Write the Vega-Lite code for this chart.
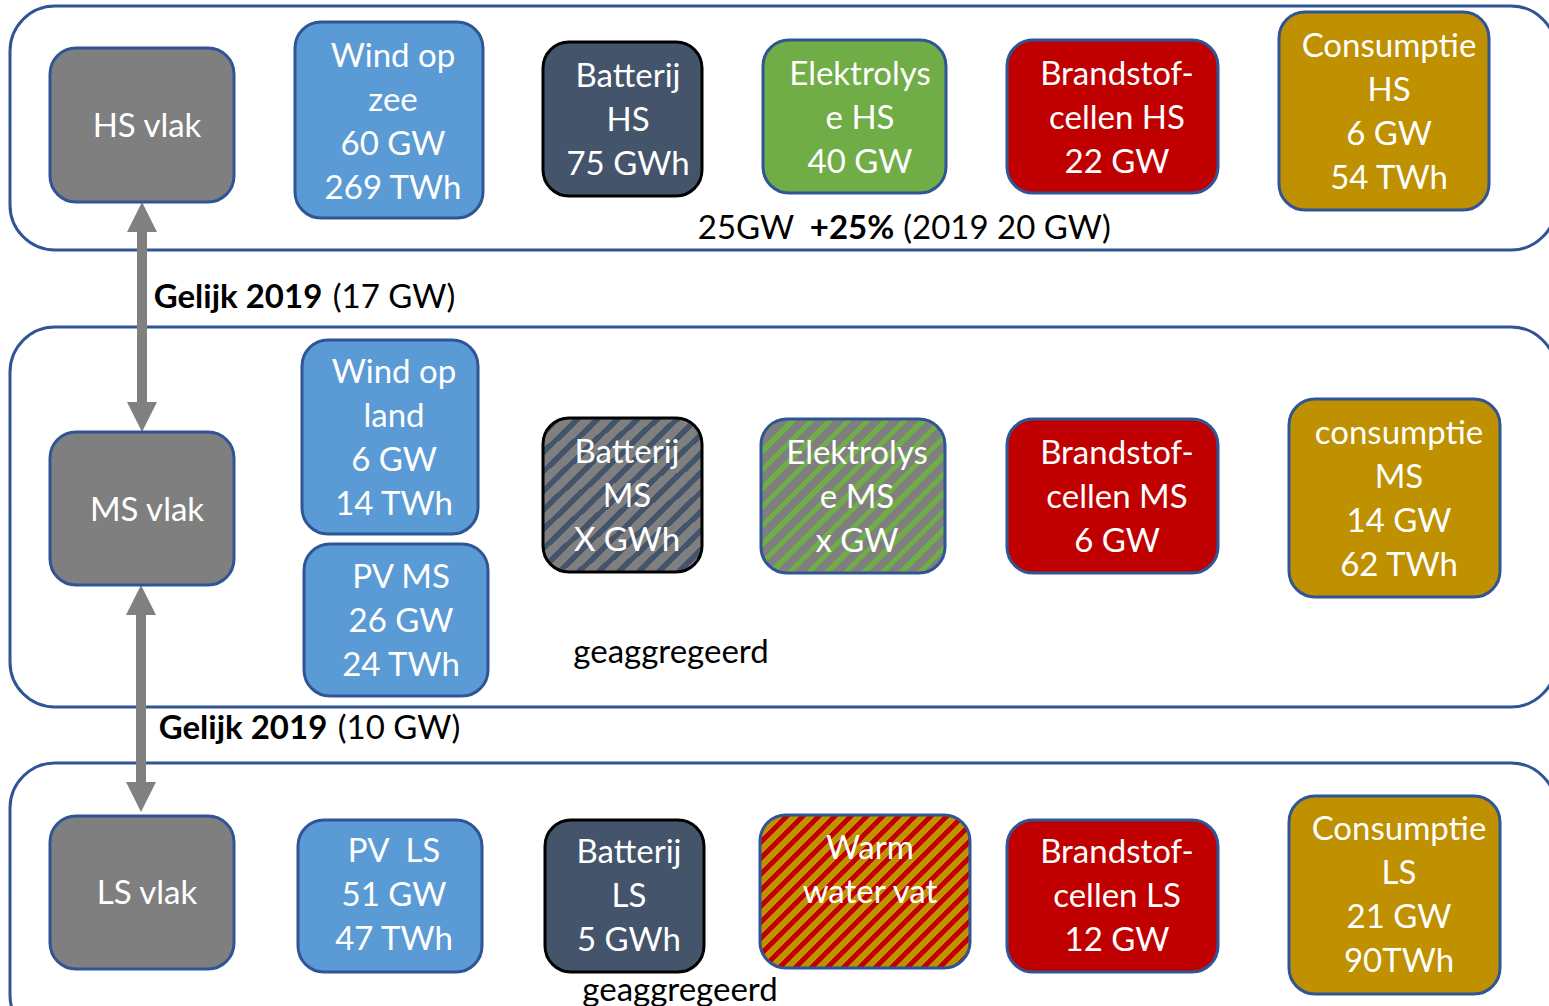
{
"$schema": "https://vega.github.io/schema/vega-lite/v6.json",
"width": 1549, "height": 1006, "padding": 0, "autosize": "none", "background": "white",
"config": {"view": {"stroke": null}, "axis": {"disable": true}},
"datasets": {
"panels": [
{"level": "HS", "x": 10, "x2": 1556, "y": 6, "y2": 250},
{"level": "MS", "x": 10, "x2": 1556, "y": 327, "y2": 707},
{"level": "LS", "x": 10, "x2": 1556, "y": 763, "y2": 1040}
],
"shafts": [
{"link": "HS-MS", "x": 142, "y": 220, "y2": 415},
{"link": "MS-LS", "x": 141, "y": 600, "y2": 795}
],
"heads": [
{"link": "HS-MS", "dir": "up", "x": 142, "y": 217},
{"link": "HS-MS", "dir": "down", "x": 142, "y": 417},
{"link": "MS-LS", "dir": "up", "x": 141, "y": 600},
{"link": "MS-LS", "dir": "down", "x": 141, "y": 797}
],
"boxes": [
{"id": "HS vlak", "kind": "grid", "x": 50, "x2": 234, "y": 48, "y2": 202, "label": "HS vlak", "tx": 147, "ty": 127},
{"id": "Wind op zee", "kind": "renewable", "x": 295, "x2": 483, "y": 22, "y2": 218, "label": "Wind op\nzee\n60 GW\n269 TWh", "tx": 393, "ty": 57},
{"id": "Batterij HS", "kind": "battery", "x": 543, "x2": 702, "y": 42, "y2": 196, "label": "Batterij\nHS\n75 GWh", "tx": 628, "ty": 77},
{"id": "Elektrolyse HS", "kind": "electrolysis", "x": 763, "x2": 946, "y": 40, "y2": 193, "label": "Elektrolys\ne HS\n40 GW", "tx": 860, "ty": 75},
{"id": "Brandstofcellen HS", "kind": "fuelcell", "x": 1007, "x2": 1218, "y": 40, "y2": 193, "label": "Brandstof-\ncellen HS\n22 GW", "tx": 1117, "ty": 75},
{"id": "Consumptie HS", "kind": "consumption", "x": 1279, "x2": 1489, "y": 12, "y2": 210, "label": "Consumptie\nHS\n6 GW\n54 TWh", "tx": 1389, "ty": 47},
{"id": "MS vlak", "kind": "grid", "x": 50, "x2": 234, "y": 432, "y2": 585, "label": "MS vlak", "tx": 147, "ty": 511},
{"id": "Wind op land", "kind": "renewable", "x": 302, "x2": 478, "y": 340, "y2": 534, "label": "Wind op\nland\n6 GW\n14 TWh", "tx": 394, "ty": 373},
{"id": "PV MS", "kind": "renewable", "x": 304, "x2": 488, "y": 544, "y2": 696, "label": "PV MS\n26 GW\n24 TWh", "tx": 401, "ty": 578},
{"id": "Batterij MS", "kind": "battery-hatched", "x": 543, "x2": 702, "y": 418, "y2": 572, "label": "Batterij\nMS\nX GWh", "tx": 627, "ty": 453},
{"id": "Elektrolyse MS", "kind": "electrolysis-hatched", "x": 761, "x2": 945, "y": 419, "y2": 573, "label": "Elektrolys\ne MS\nx GW", "tx": 857, "ty": 454},
{"id": "Brandstofcellen MS", "kind": "fuelcell", "x": 1007, "x2": 1218, "y": 419, "y2": 573, "label": "Brandstof-\ncellen MS\n6 GW", "tx": 1117, "ty": 454},
{"id": "Consumptie MS", "kind": "consumption", "x": 1289, "x2": 1500, "y": 399, "y2": 597, "label": "consumptie\nMS\n14 GW\n62 TWh", "tx": 1399, "ty": 434},
{"id": "LS vlak", "kind": "grid", "x": 50, "x2": 234, "y": 816, "y2": 969, "label": "LS vlak", "tx": 147, "ty": 894},
{"id": "PV LS", "kind": "renewable", "x": 298, "x2": 482, "y": 820, "y2": 972, "label": "PV\u00a0\u00a0LS\n51 GW\n47 TWh", "tx": 394, "ty": 852},
{"id": "Batterij LS", "kind": "battery", "x": 545, "x2": 704, "y": 820, "y2": 972, "label": "Batterij\nLS\n5 GWh", "tx": 629, "ty": 853},
{"id": "Warm water vat", "kind": "heat-hatched", "x": 760, "x2": 970, "y": 815, "y2": 968, "label": "Warm\nwater vat", "tx": 870, "ty": 849},
{"id": "Brandstofcellen LS", "kind": "fuelcell", "x": 1007, "x2": 1218, "y": 820, "y2": 972, "label": "Brandstof-\ncellen LS\n12 GW", "tx": 1117, "ty": 853},
{"id": "Consumptie LS", "kind": "consumption", "x": 1289, "x2": 1500, "y": 796, "y2": 994, "label": "Consumptie\nLS\n21 GW\n90TWh", "tx": 1399, "ty": 830}
],
"notes": [
{"text": "25GW", "bold": false, "x": 746, "y": 229},
{"text": "+25%", "bold": true, "x": 852, "y": 229},
{"text": "(2019 20 GW)", "bold": false, "x": 1007, "y": 229},
{"text": "Gelijk 2019", "bold": true, "x": 238, "y": 298},
{"text": "(17 GW)", "bold": false, "x": 394, "y": 298},
{"text": "Gelijk 2019", "bold": true, "x": 243, "y": 729},
{"text": "(10 GW)", "bold": false, "x": 399, "y": 729},
{"text": "geaggregeerd", "bold": false, "x": 671, "y": 653},
{"text": "geaggregeerd", "bold": false, "x": 680, "y": 991}
]
},
"layer": [
{"data": {"name": "panels"},
 "mark": {"type": "rect", "fill": "white", "stroke": "#2F5597", "strokeWidth": 3, "cornerRadius": 45, "clip": true},
 "encoding": {
  "x": {"field": "x", "type": "quantitative", "scale": {"domain": [0, 1549], "nice": false, "zero": false}, "axis": null},
  "x2": {"field": "x2"},
  "y": {"field": "y", "type": "quantitative", "scale": {"domain": [0, 1006], "nice": false, "zero": false, "reverse": true}, "axis": null},
  "y2": {"field": "y2"}}},
{"data": {"name": "shafts"},
 "mark": {"type": "rule", "color": "#808080", "strokeWidth": 10},
 "encoding": {
  "x": {"field": "x", "type": "quantitative"},
  "y": {"field": "y", "type": "quantitative"},
  "y2": {"field": "y2"}}},
{"data": {"name": "heads"},
 "mark": {"type": "point", "filled": true, "color": "#808080", "opacity": 1, "size": 900, "strokeWidth": 0},
 "encoding": {
  "x": {"field": "x", "type": "quantitative"},
  "y": {"field": "y", "type": "quantitative"},
  "shape": {"field": "dir", "type": "nominal", "scale": {"domain": ["up", "down"], "range": ["M-1,1L0,-1L1,1Z", "M-1,-1L0,1L1,-1Z"]}, "legend": null}}},
{"data": {"name": "boxes"},
 "transform": [{"filter": "indexof(datum.kind, 'hatched') < 0"}],
 "mark": {"type": "rect", "strokeWidth": 3, "cornerRadius": 26},
 "encoding": {
  "x": {"field": "x", "type": "quantitative"},
  "x2": {"field": "x2"},
  "y": {"field": "y", "type": "quantitative"},
  "y2": {"field": "y2"},
  "fill": {"field": "kind", "type": "nominal", "scale": {"domain": ["grid", "renewable", "battery", "electrolysis", "fuelcell", "consumption"], "range": ["#7F7F7F", "#5B9BD5", "#44546A", "#70AD47", "#C00000", "#BF9000"]}, "legend": null},
  "stroke": {"field": "kind", "type": "nominal", "scale": {"domain": ["grid", "renewable", "battery", "electrolysis", "fuelcell", "consumption"], "range": ["#2F5597", "#2F5597", "#000000", "#2F5597", "#2F5597", "#2F5597"]}, "legend": null}}},
{"data": {"name": "boxes"},
 "transform": [{"filter": "datum.kind == 'battery-hatched'"}],
 "mark": {"type": "rect", "strokeWidth": 3, "cornerRadius": 26, "stroke": "#000000",
  "fill": {"gradient": "linear", "x1": 0, "y1": 0, "x2": 1, "y2": 1, "stops": [
{"offset":0,"color":"#7F7F7F"},{"offset":0.0375,"color":"#7F7F7F"},{"offset":0.0375,"color":"#44546A"},{"offset":0.0625,"color":"#44546A"},
{"offset":0.0625,"color":"#7F7F7F"},{"offset":0.1,"color":"#7F7F7F"},{"offset":0.1,"color":"#44546A"},{"offset":0.125,"color":"#44546A"},
{"offset":0.125,"color":"#7F7F7F"},{"offset":0.1625,"color":"#7F7F7F"},{"offset":0.1625,"color":"#44546A"},{"offset":0.1875,"color":"#44546A"},
{"offset":0.1875,"color":"#7F7F7F"},{"offset":0.225,"color":"#7F7F7F"},{"offset":0.225,"color":"#44546A"},{"offset":0.25,"color":"#44546A"},
{"offset":0.25,"color":"#7F7F7F"},{"offset":0.2875,"color":"#7F7F7F"},{"offset":0.2875,"color":"#44546A"},{"offset":0.3125,"color":"#44546A"},
{"offset":0.3125,"color":"#7F7F7F"},{"offset":0.35,"color":"#7F7F7F"},{"offset":0.35,"color":"#44546A"},{"offset":0.375,"color":"#44546A"},
{"offset":0.375,"color":"#7F7F7F"},{"offset":0.4125,"color":"#7F7F7F"},{"offset":0.4125,"color":"#44546A"},{"offset":0.4375,"color":"#44546A"},
{"offset":0.4375,"color":"#7F7F7F"},{"offset":0.475,"color":"#7F7F7F"},{"offset":0.475,"color":"#44546A"},{"offset":0.5,"color":"#44546A"},
{"offset":0.5,"color":"#7F7F7F"},{"offset":0.5375,"color":"#7F7F7F"},{"offset":0.5375,"color":"#44546A"},{"offset":0.5625,"color":"#44546A"},
{"offset":0.5625,"color":"#7F7F7F"},{"offset":0.6,"color":"#7F7F7F"},{"offset":0.6,"color":"#44546A"},{"offset":0.625,"color":"#44546A"},
{"offset":0.625,"color":"#7F7F7F"},{"offset":0.6625,"color":"#7F7F7F"},{"offset":0.6625,"color":"#44546A"},{"offset":0.6875,"color":"#44546A"},
{"offset":0.6875,"color":"#7F7F7F"},{"offset":0.725,"color":"#7F7F7F"},{"offset":0.725,"color":"#44546A"},{"offset":0.75,"color":"#44546A"},
{"offset":0.75,"color":"#7F7F7F"},{"offset":0.7875,"color":"#7F7F7F"},{"offset":0.7875,"color":"#44546A"},{"offset":0.8125,"color":"#44546A"},
{"offset":0.8125,"color":"#7F7F7F"},{"offset":0.85,"color":"#7F7F7F"},{"offset":0.85,"color":"#44546A"},{"offset":0.875,"color":"#44546A"},
{"offset":0.875,"color":"#7F7F7F"},{"offset":0.9125,"color":"#7F7F7F"},{"offset":0.9125,"color":"#44546A"},{"offset":0.9375,"color":"#44546A"},
{"offset":0.9375,"color":"#7F7F7F"},{"offset":0.975,"color":"#7F7F7F"},{"offset":0.975,"color":"#44546A"},{"offset":1,"color":"#44546A"}
  ]}},
 "encoding": {
  "x": {"field": "x", "type": "quantitative"},
  "x2": {"field": "x2"},
  "y": {"field": "y", "type": "quantitative"},
  "y2": {"field": "y2"}}},
{"data": {"name": "boxes"},
 "transform": [{"filter": "datum.kind == 'electrolysis-hatched'"}],
 "mark": {"type": "rect", "strokeWidth": 3, "cornerRadius": 26, "stroke": "#2F5597",
  "fill": {"gradient": "linear", "x1": 0, "y1": 0, "x2": 1.08, "y2": 0.904, "stops": [
{"offset":0,"color":"#7F7F7F"},{"offset":0.033,"color":"#7F7F7F"},{"offset":0.033,"color":"#70AD47"},{"offset":0.055,"color":"#70AD47"},
{"offset":0.055,"color":"#7F7F7F"},{"offset":0.088,"color":"#7F7F7F"},{"offset":0.088,"color":"#70AD47"},{"offset":0.11,"color":"#70AD47"},
{"offset":0.11,"color":"#7F7F7F"},{"offset":0.143,"color":"#7F7F7F"},{"offset":0.143,"color":"#70AD47"},{"offset":0.165,"color":"#70AD47"},
{"offset":0.165,"color":"#7F7F7F"},{"offset":0.198,"color":"#7F7F7F"},{"offset":0.198,"color":"#70AD47"},{"offset":0.22,"color":"#70AD47"},
{"offset":0.22,"color":"#7F7F7F"},{"offset":0.253,"color":"#7F7F7F"},{"offset":0.253,"color":"#70AD47"},{"offset":0.275,"color":"#70AD47"},
{"offset":0.275,"color":"#7F7F7F"},{"offset":0.308,"color":"#7F7F7F"},{"offset":0.308,"color":"#70AD47"},{"offset":0.33,"color":"#70AD47"},
{"offset":0.33,"color":"#7F7F7F"},{"offset":0.363,"color":"#7F7F7F"},{"offset":0.363,"color":"#70AD47"},{"offset":0.385,"color":"#70AD47"},
{"offset":0.385,"color":"#7F7F7F"},{"offset":0.418,"color":"#7F7F7F"},{"offset":0.418,"color":"#70AD47"},{"offset":0.44,"color":"#70AD47"},
{"offset":0.44,"color":"#7F7F7F"},{"offset":0.473,"color":"#7F7F7F"},{"offset":0.473,"color":"#70AD47"},{"offset":0.495,"color":"#70AD47"},
{"offset":0.495,"color":"#7F7F7F"},{"offset":0.528,"color":"#7F7F7F"},{"offset":0.528,"color":"#70AD47"},{"offset":0.55,"color":"#70AD47"},
{"offset":0.55,"color":"#7F7F7F"},{"offset":0.583,"color":"#7F7F7F"},{"offset":0.583,"color":"#70AD47"},{"offset":0.605,"color":"#70AD47"},
{"offset":0.605,"color":"#7F7F7F"},{"offset":0.638,"color":"#7F7F7F"},{"offset":0.638,"color":"#70AD47"},{"offset":0.66,"color":"#70AD47"},
{"offset":0.66,"color":"#7F7F7F"},{"offset":0.693,"color":"#7F7F7F"},{"offset":0.693,"color":"#70AD47"},{"offset":0.715,"color":"#70AD47"},
{"offset":0.715,"color":"#7F7F7F"},{"offset":0.748,"color":"#7F7F7F"},{"offset":0.748,"color":"#70AD47"},{"offset":0.77,"color":"#70AD47"},
{"offset":0.77,"color":"#7F7F7F"},{"offset":0.803,"color":"#7F7F7F"},{"offset":0.803,"color":"#70AD47"},{"offset":0.825,"color":"#70AD47"},
{"offset":0.825,"color":"#7F7F7F"},{"offset":0.858,"color":"#7F7F7F"},{"offset":0.858,"color":"#70AD47"},{"offset":0.88,"color":"#70AD47"},
{"offset":0.88,"color":"#7F7F7F"},{"offset":0.913,"color":"#7F7F7F"},{"offset":0.913,"color":"#70AD47"},{"offset":0.935,"color":"#70AD47"},
{"offset":0.935,"color":"#7F7F7F"},{"offset":0.968,"color":"#7F7F7F"},{"offset":0.968,"color":"#70AD47"},{"offset":0.99,"color":"#70AD47"},
{"offset":0.99,"color":"#7F7F7F"},{"offset":1,"color":"#7F7F7F"}
  ]}},
 "encoding": {
  "x": {"field": "x", "type": "quantitative"},
  "x2": {"field": "x2"},
  "y": {"field": "y", "type": "quantitative"},
  "y2": {"field": "y2"}}},
{"data": {"name": "boxes"},
 "transform": [{"filter": "datum.kind == 'heat-hatched'"}],
 "mark": {"type": "rect", "strokeWidth": 3, "cornerRadius": 26, "stroke": "#2F5597",
  "fill": {"gradient": "linear", "x1": 0, "y1": 0, "x2": 1.129, "y2": 0.824, "stops": [
{"offset":0,"color":"#BF9000"},{"offset":0.024,"color":"#BF9000"},{"offset":0.024,"color":"#C00000"},{"offset":0.044,"color":"#C00000"},
{"offset":0.044,"color":"#BF9000"},{"offset":0.068,"color":"#BF9000"},{"offset":0.068,"color":"#C00000"},{"offset":0.088,"color":"#C00000"},
{"offset":0.088,"color":"#BF9000"},{"offset":0.112,"color":"#BF9000"},{"offset":0.112,"color":"#C00000"},{"offset":0.132,"color":"#C00000"},
{"offset":0.132,"color":"#BF9000"},{"offset":0.156,"color":"#BF9000"},{"offset":0.156,"color":"#C00000"},{"offset":0.176,"color":"#C00000"},
{"offset":0.176,"color":"#BF9000"},{"offset":0.2,"color":"#BF9000"},{"offset":0.2,"color":"#C00000"},{"offset":0.22,"color":"#C00000"},
{"offset":0.22,"color":"#BF9000"},{"offset":0.244,"color":"#BF9000"},{"offset":0.244,"color":"#C00000"},{"offset":0.264,"color":"#C00000"},
{"offset":0.264,"color":"#BF9000"},{"offset":0.288,"color":"#BF9000"},{"offset":0.288,"color":"#C00000"},{"offset":0.308,"color":"#C00000"},
{"offset":0.308,"color":"#BF9000"},{"offset":0.332,"color":"#BF9000"},{"offset":0.332,"color":"#C00000"},{"offset":0.352,"color":"#C00000"},
{"offset":0.352,"color":"#BF9000"},{"offset":0.376,"color":"#BF9000"},{"offset":0.376,"color":"#C00000"},{"offset":0.396,"color":"#C00000"},
{"offset":0.396,"color":"#BF9000"},{"offset":0.42,"color":"#BF9000"},{"offset":0.42,"color":"#C00000"},{"offset":0.44,"color":"#C00000"},
{"offset":0.44,"color":"#BF9000"},{"offset":0.464,"color":"#BF9000"},{"offset":0.464,"color":"#C00000"},{"offset":0.484,"color":"#C00000"},
{"offset":0.484,"color":"#BF9000"},{"offset":0.508,"color":"#BF9000"},{"offset":0.508,"color":"#C00000"},{"offset":0.528,"color":"#C00000"},
{"offset":0.528,"color":"#BF9000"},{"offset":0.552,"color":"#BF9000"},{"offset":0.552,"color":"#C00000"},{"offset":0.572,"color":"#C00000"},
{"offset":0.572,"color":"#BF9000"},{"offset":0.596,"color":"#BF9000"},{"offset":0.596,"color":"#C00000"},{"offset":0.616,"color":"#C00000"},
{"offset":0.616,"color":"#BF9000"},{"offset":0.64,"color":"#BF9000"},{"offset":0.64,"color":"#C00000"},{"offset":0.66,"color":"#C00000"},
{"offset":0.66,"color":"#BF9000"},{"offset":0.684,"color":"#BF9000"},{"offset":0.684,"color":"#C00000"},{"offset":0.704,"color":"#C00000"},
{"offset":0.704,"color":"#BF9000"},{"offset":0.728,"color":"#BF9000"},{"offset":0.728,"color":"#C00000"},{"offset":0.748,"color":"#C00000"},
{"offset":0.748,"color":"#BF9000"},{"offset":0.772,"color":"#BF9000"},{"offset":0.772,"color":"#C00000"},{"offset":0.792,"color":"#C00000"},
{"offset":0.792,"color":"#BF9000"},{"offset":0.816,"color":"#BF9000"},{"offset":0.816,"color":"#C00000"},{"offset":0.836,"color":"#C00000"},
{"offset":0.836,"color":"#BF9000"},{"offset":0.86,"color":"#BF9000"},{"offset":0.86,"color":"#C00000"},{"offset":0.88,"color":"#C00000"},
{"offset":0.88,"color":"#BF9000"},{"offset":0.904,"color":"#BF9000"},{"offset":0.904,"color":"#C00000"},{"offset":0.924,"color":"#C00000"},
{"offset":0.924,"color":"#BF9000"},{"offset":0.948,"color":"#BF9000"},{"offset":0.948,"color":"#C00000"},{"offset":0.968,"color":"#C00000"},
{"offset":0.968,"color":"#BF9000"},{"offset":0.992,"color":"#BF9000"},{"offset":0.992,"color":"#C00000"},{"offset":1,"color":"#C00000"}
  ]}},
 "encoding": {
  "x": {"field": "x", "type": "quantitative"},
  "x2": {"field": "x2"},
  "y": {"field": "y", "type": "quantitative"},
  "y2": {"field": "y2"}}},
{"data": {"name": "boxes"},
 "mark": {"type": "text", "font": "Lato", "fontSize": 33, "color": "white", "align": "center", "baseline": "middle", "lineBreak": "\n", "lineHeight": 44},
 "encoding": {
  "x": {"field": "tx", "type": "quantitative"},
  "y": {"field": "ty", "type": "quantitative"},
  "text": {"field": "label"}}},
{"data": {"name": "notes"},
 "transform": [{"filter": "datum.bold"}],
 "mark": {"type": "text", "font": "Lato", "fontSize": 33, "fontWeight": "bold", "color": "black", "align": "center", "baseline": "middle"},
 "encoding": {
  "x": {"field": "x", "type": "quantitative"},
  "y": {"field": "y", "type": "quantitative"},
  "text": {"field": "text"}}},
{"data": {"name": "notes"},
 "transform": [{"filter": "!datum.bold"}],
 "mark": {"type": "text", "font": "Lato", "fontSize": 33, "color": "black", "align": "center", "baseline": "middle"},
 "encoding": {
  "x": {"field": "x", "type": "quantitative"},
  "y": {"field": "y", "type": "quantitative"},
  "text": {"field": "text"}}}
]
}
